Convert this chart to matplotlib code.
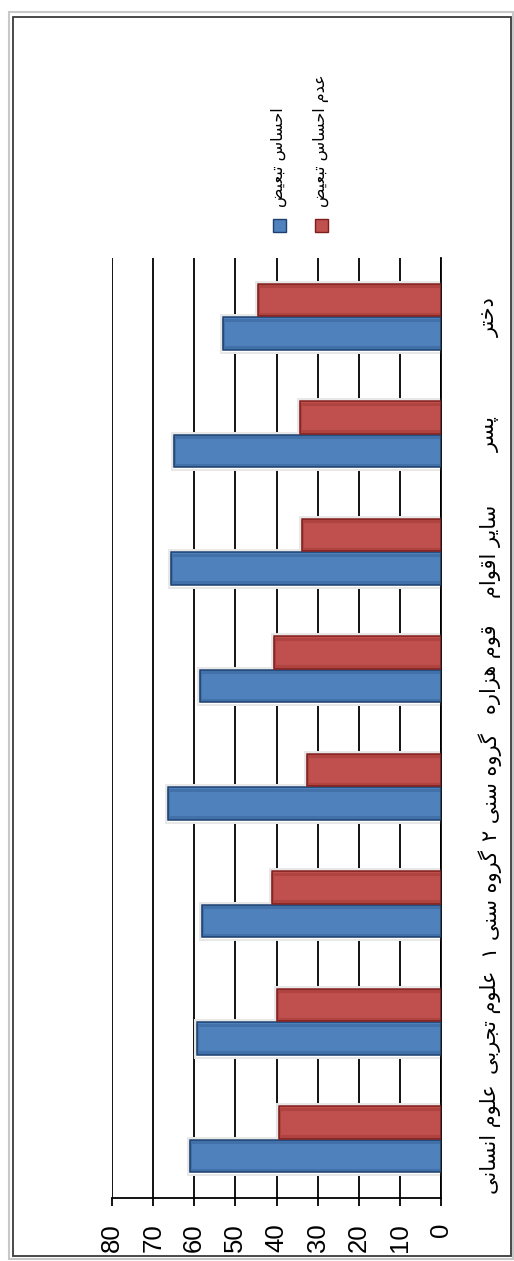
import matplotlib
matplotlib.use("Agg")
import matplotlib.pyplot as plt
from matplotlib import font_manager
from matplotlib.patches import Rectangle
from matplotlib.transforms import blended_transform_factory

# ---- data -------------------------------------------------------------
categories = ['علوم انسانی', 'علوم تجربی', 'گروه سنی ۱', 'گروه سنی ۲',
              'قوم هزاره', 'سایر اقوام', 'پسر', 'دختر']
feeling = [61.1, 59.3, 58.1, 66.3, 58.6, 65.7, 65.0, 53.0]
no_feeling = [39.3, 39.9, 41.1, 32.6, 40.6, 33.7, 34.2, 44.6]
series_names = ['احساس تبعیض', 'عدم احساس تبعیض']
value_ticks = [0, 10, 20, 30, 40, 50, 60, 70, 80]

# ---- minimal Arabic/Persian shaping (contextual forms + visual order) --
FORMS = {
    'ا': ('\uFE8D', '\uFE8E', None, None),
    'ب': ('\uFE8F', '\uFE90', '\uFE91', '\uFE92'),
    'پ': ('\uFB56', '\uFB57', '\uFB58', '\uFB59'),
    'ت': ('\uFE95', '\uFE96', '\uFE97', '\uFE98'),
    'ج': ('\uFE9D', '\uFE9E', '\uFE9F', '\uFEA0'),
    'ح': ('\uFEA1', '\uFEA2', '\uFEA3', '\uFEA4'),
    'خ': ('\uFEA5', '\uFEA6', '\uFEA7', '\uFEA8'),
    'د': ('\uFEA9', '\uFEAA', None, None),
    'ر': ('\uFEAD', '\uFEAE', None, None),
    'ز': ('\uFEAF', '\uFEB0', None, None),
    'س': ('\uFEB1', '\uFEB2', '\uFEB3', '\uFEB4'),
    'ض': ('\uFEBD', '\uFEBE', '\uFEBF', '\uFEC0'),
    'ع': ('\uFEC9', '\uFECA', '\uFECB', '\uFECC'),
    'ق': ('\uFED5', '\uFED6', '\uFED7', '\uFED8'),
    'گ': ('\uFB92', '\uFB93', '\uFB94', '\uFB95'),
    'ل': ('\uFEDD', '\uFEDE', '\uFEDF', '\uFEE0'),
    'م': ('\uFEE1', '\uFEE2', '\uFEE3', '\uFEE4'),
    'ن': ('\uFEE5', '\uFEE6', '\uFEE7', '\uFEE8'),
    'ه': ('\uFEE9', '\uFEEA', '\uFEEB', '\uFEEC'),
    'و': ('\uFEED', '\uFEEE', None, None),
    'ی': ('\uFBFC', '\uFBFD', '\uFBFE', '\uFBFF'),
}


def shape(text):
    out = []
    for i, ch in enumerate(text):
        f = FORMS.get(ch)
        if f is None:
            out.append(ch)
            continue
        prev = text[i - 1] if i > 0 else None
        nxt = text[i + 1] if i < len(text) - 1 else None
        join_prev = prev in FORMS and FORMS[prev][2] is not None
        join_next = nxt in FORMS and f[2] is not None
        if join_prev and join_next:
            out.append(f[3])
        elif join_prev:
            out.append(f[1])
        elif join_next:
            out.append(f[2])
        else:
            out.append(f[0])
    return ''.join(reversed(out))


installed = {f.name for f in font_manager.fontManager.ttflist}
num_font = next((n for n in ['Liberation Sans Narrow', 'DejaVu Sans Condensed',
                             'Liberation Sans'] if n in installed), 'DejaVu Sans')
ar_font = 'DejaVu Sans'

BLUE, BLUE_EDGE = '#4F81BD', '#1C3F6E'
RED, RED_EDGE = '#C0504D', '#7F1D1B'

W, H = 514, 1261
fig = plt.figure(figsize=(W / 100, H / 100), dpi=100)
fig.patch.set_facecolor('white')

# plot area (pixel box 112..441 x 258..1198)
ax = fig.add_axes([112 / W, 1 - 1198 / H, (441 - 112) / W, (1198 - 258) / H])
ax.set_facecolor('white')

pos = list(range(len(categories)))
bh = 0.275
off = 0.142
blue_y = [p - off for p in pos]
red_y = [p + off for p in pos]

# soft shadow and white halo behind each bar
for ys, vals in ((blue_y, feeling), (red_y, no_feeling)):
    ax.barh(ys, vals, height=bh, color='#e8e8e8', edgecolor='#e8e8e8',
            linewidth=5, zorder=2)
    ax.barh(ys, vals, height=bh, color='white', edgecolor='white',
            linewidth=2.2, zorder=2.5)

ax.barh(blue_y, feeling, height=bh, color=BLUE, edgecolor=BLUE_EDGE,
        linewidth=1.1, zorder=3)
ax.barh(red_y, no_feeling, height=bh, color=RED, edgecolor=RED_EDGE,
        linewidth=1.1, zorder=3)
# inner bevel shading
ax.barh(blue_y, feeling, height=bh * 0.86, color='none',
        edgecolor=BLUE_EDGE, alpha=0.25, linewidth=2.2, zorder=3.2)
ax.barh(red_y, no_feeling, height=bh * 0.86, color='none',
        edgecolor=RED_EDGE, alpha=0.25, linewidth=2.2, zorder=3.2)

ax.set_xlim(0, 80)
ax.invert_xaxis()
ax.set_ylim(-0.5, len(categories) - 0.5)

ax.set_xticks(value_ticks)
ax.set_xticklabels([str(v) for v in value_ticks], rotation=90,
                   fontsize=18.5, family=num_font, color='black')
ax.tick_params(axis='x', length=6, width=1.3, pad=12, direction='out',
               color='black')
ax.set_yticks([])
ax.xaxis.grid(True, color='black', linewidth=1.3)
ax.set_axisbelow(True)

for side in ('left', 'top'):
    ax.spines[side].set_visible(False)
for side in ('right', 'bottom'):
    ax.spines[side].set_color('black')
    ax.spines[side].set_linewidth(1.3)

# category labels, rotated, right of the plot
tr = blended_transform_factory(ax.transAxes, ax.transData)
for p, name in zip(pos, categories):
    ax.text(1.149, p, shape(name), transform=tr, rotation=90,
            ha='center', va='center', fontsize=15, family=ar_font,
            clip_on=False)

# legend (rotated): swatches with labels above them
for cx, name, fc, ec in ((279, series_names[0], BLUE, BLUE_EDGE),
                         (321, series_names[1], RED, RED_EDGE)):
    s = 13
    fig.add_artist(Rectangle(((cx - s / 2) / W, 1 - (225 + s / 2) / H),
                             s / W, s / H, transform=fig.transFigure,
                             facecolor=fc, edgecolor=ec, linewidth=1))
    fig.text(cx / W, 1 - 207 / H, shape(name), rotation=90, ha='center',
             va='bottom', fontsize=11.5, family=ar_font)

# chart frame
fig.add_artist(Rectangle((9 / W, 1 - 1259 / H), (513 - 9) / W, (1259 - 12) / H,
                         transform=fig.transFigure, fill=False,
                         edgecolor='#c8c8c8', linewidth=1.5))
fig.add_artist(Rectangle((13 / W, 1 - 1256 / H), (511 - 13) / W, (1256 - 17) / H,
                         transform=fig.transFigure, fill=False,
                         edgecolor='#3a3a3a', linewidth=1.3))

fig.savefig('out.png', dpi=100, facecolor='white')
